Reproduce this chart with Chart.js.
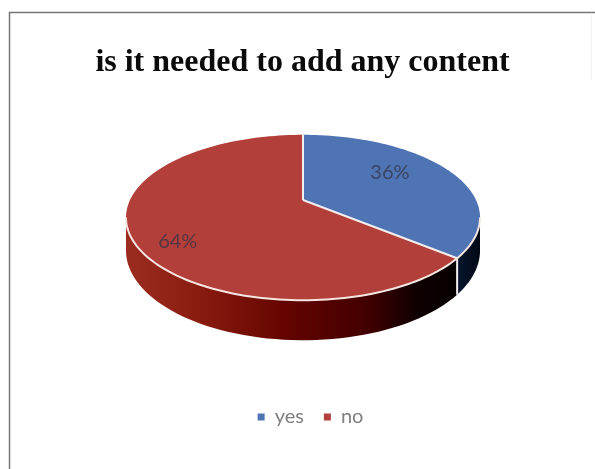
<!DOCTYPE html>
<html>
<head>
<meta charset="utf-8">
<style>
  html, body { margin: 0; padding: 0; background: #fff; }
  #wrap { position: relative; width: 595px; height: 469px; }
</style>
<script src="https://cdn.jsdelivr.net/npm/chart.js@4"></script>
</head>
<body>
<div id="wrap"><canvas id="myCanvas" width="595" height="469"></canvas></div>
<script>
const titleText = "is it needed to add any content";
const categories = ["yes", "no"];
const values = [36, 64];
const colors = ["#4f74b4", "#b33f3a"];

// the pie is seen in perspective, so the apex is not the middle of the ellipse
const view = { cx: 303, cy: 200, rx: 173, ry: 79, tilt: 0.212, depth: 31.5 };

function project(angle, down) {
  const u = Math.sin(angle);
  const v = -Math.cos(angle);
  const w = 1 - view.tilt * v;
  return {
    x: view.cx + (view.rx * u) / w,
    y: view.cy + (view.ry * v) / w + (down ? view.depth / w : 0),
  };
}

function wallGradient(ctx, stops) {
  const g = ctx.createLinearGradient(126, 0, 480, 0);
  stops.forEach((s) => g.addColorStop(s[0], s[1]));
  return g;
}

// frame of the scanned chart
const frame = {
  id: "frame",
  afterLayout(chart) {
    // legend sits a little right of the title in the original
    chart.legend.left += 16;
  },
  beforeDraw(chart) {
    const ctx = chart.ctx;
    ctx.save();
    ctx.beginPath();
    ctx.moveTo(9.5, 469);
    ctx.lineTo(9.5, 12.5);
    ctx.lineTo(595, 12.5);
    ctx.strokeStyle = "#77747a";
    ctx.lineWidth = 1.5;
    ctx.stroke();
    ctx.beginPath();
    ctx.moveTo(591.5, 13);
    ctx.lineTo(591.5, 80);
    ctx.strokeStyle = "#f2f2f2";
    ctx.lineWidth = 1;
    ctx.stroke();
    ctx.restore();
  },
};

const pie3d = {
  id: "pie3d",
  beforeDatasetDraw(chart) {
    const ctx = chart.ctx;
    const arcs = chart.getDatasetMeta(0).data;
    const rot = Math.PI / 2; // chart.js angles start at 3 o'clock
    const walls = [
      wallGradient(ctx, [[0, "#0a1c3c"], [0.9, "#0a1c3c"], [1, "#000814"]]),
      wallGradient(ctx, [[0, "#9c2c20"], [0.2, "#8a1c10"], [0.45, "#640400"], [0.68, "#420000"], [0.82, "#100000"], [1, "#000000"]]),
    ];

    ctx.save();
    // side walls, front half only
    const near = Math.acos(-view.tilt);
    arcs.forEach((arc, i) => {
      const a0 = Math.max(arc.startAngle + rot, near);
      const a1 = Math.min(arc.endAngle + rot, 2 * Math.PI - near);
      if (a1 <= a0) return;
      ctx.beginPath();
      for (let t = 0; t <= 60; t++) {
        const p = project(a0 + ((a1 - a0) * t) / 60, false);
        ctx.lineTo(p.x, p.y);
      }
      for (let t = 60; t >= 0; t--) {
        const p = project(a0 + ((a1 - a0) * t) / 60, true);
        ctx.lineTo(p.x, p.y);
      }
      ctx.closePath();
      ctx.fillStyle = walls[i];
      ctx.fill();
    });

    // white seam down the wall where the slices meet
    const seam = arcs[0].endAngle + rot;
    const s0 = project(seam, false);
    const s1 = project(seam, true);
    ctx.beginPath();
    ctx.moveTo(s0.x, s0.y);
    ctx.lineTo(s1.x, s1.y);
    ctx.strokeStyle = "#f4eeee";
    ctx.lineWidth = 2;
    ctx.stroke();

    // top faces
    arcs.forEach((arc, i) => {
      const a0 = arc.startAngle + rot;
      const a1 = arc.endAngle + rot;
      ctx.beginPath();
      ctx.moveTo(view.cx, view.cy);
      for (let t = 0; t <= 120; t++) {
        const p = project(a0 + ((a1 - a0) * t) / 120, false);
        ctx.lineTo(p.x, p.y);
      }
      ctx.closePath();
      ctx.fillStyle = colors[i];
      ctx.fill();
    });

    // spokes
    ctx.beginPath();
    arcs.forEach((arc) => {
      const p = project(arc.startAngle + rot, false);
      ctx.moveTo(view.cx, view.cy);
      ctx.lineTo(p.x, p.y);
    });
    ctx.strokeStyle = "#f4eeee";
    ctx.lineWidth = 2;
    ctx.stroke();

    // light rim along the front edge
    ctx.beginPath();
    for (let t = 0; t <= 100; t++) {
      const p = project(near + ((2 * Math.PI - 2 * near) * t) / 100, false);
      ctx.lineTo(p.x, p.y);
    }
    ctx.strokeStyle = "#f6e6e2";
    ctx.lineWidth = 2;
    ctx.stroke();

    // percent labels
    ctx.font = "20px Lato";
    ctx.textAlign = "center";
    ctx.textBaseline = "middle";
    ctx.fillStyle = "rgba(50,50,70,0.72)";
    const total = values.reduce((a, b) => a + b, 0);
    const labelSpots = [[0.43, 0.656], [0.452, 0.807]];
    arcs.forEach((arc, i) => {
      const mid = arc.startAngle + rot + labelSpots[i][0] * (arc.endAngle - arc.startAngle);
      const r = labelSpots[i][1];
      const v = -Math.cos(mid) * r;
      const w = 1 - view.tilt * v;
      const x = view.cx + (view.rx * Math.sin(mid) * r) / w;
      const y = view.cy + (view.ry * v) / w;
      ctx.fillText(Math.round((values[i] / total) * 100) + "%", x, y);
    });
    ctx.restore();
    return false;
  },
};

new Chart(document.getElementById("myCanvas"), {
  type: "pie",
  data: {
    labels: categories,
    datasets: [{ data: values, backgroundColor: colors, borderWidth: 0 }],
  },
  plugins: [frame, pie3d],
  options: {
    responsive: false,
    animation: false,
    layout: { padding: { top: 44, bottom: 32, left: 10 } },
    plugins: {
      title: {
        display: true,
        text: titleText,
        color: "#0a0a0a",
        font: { family: "Liberation Serif", size: 32, weight: "bold" },
        padding: { top: 0, bottom: 0 },
      },
      legend: {
        position: "bottom",
        labels: {
          color: "#7f7f7f",
          font: { family: "Lato", size: 20 },
          boxWidth: 7,
          boxHeight: 7,
          padding: 20,
        },
      },
      tooltip: { enabled: false },
    },
  },
});
</script>
</body>
</html>
